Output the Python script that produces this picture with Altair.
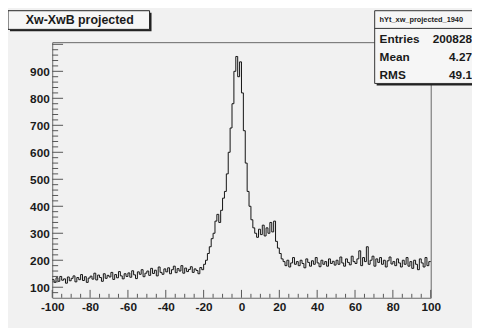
import altair as alt
import pandas as pd

# ---- data (bin width 1, left edges -100 .. 99) ----
bin_lo, bin_hi = -100, 100
counts = [
    128, 118, 135, 122, 140, 126, 131, 115, 138, 124,   # -100..-91
    133, 142, 120, 136, 128, 147, 125, 139, 118, 134,   # -90..-81
    141, 130, 152, 127, 145, 136, 122, 150, 133, 144,   # -80..-71
    138, 155, 129, 147, 135, 158, 142, 131, 150, 140,   # -70..-61
    153, 137, 161, 146, 132, 157, 148, 165, 139, 152,   # -60..-51
    160, 144, 170, 151, 163, 142, 175, 155, 148, 168,   # -50..-41
    157, 172, 150, 165, 178, 154, 169, 160, 180, 152,   # -40..-31
    171, 158, 166, 176, 155, 168, 162, 150, 173, 165,   # -30..-21
    185, 200, 225, 250, 280, 300, 345, 370, 340, 385,   # -20..-11
    430, 455, 520, 600, 690, 780, 900, 955, 880, 935,   # -10..-1
    820, 680, 560, 455, 400, 350, 320, 300, 285, 315,   # 0..9
    295, 330, 290, 320, 300, 340, 305, 345, 270, 245,   # 10..19
    225, 205, 195, 180, 200, 175, 190, 210, 185, 195,   # 20..29
    180, 200, 188, 172, 205, 192, 178, 198, 185, 210,   # 30..39
    190, 176, 200, 185, 195, 178, 205, 188, 196, 182,   # 40..49
    200, 185, 212, 190, 178, 205, 192, 183, 215, 195,   # 50..59
    188, 205, 235, 180, 210, 195, 250, 185, 200, 215,   # 60..69
    178, 205, 192, 210, 185, 200, 175, 198, 212, 186,   # 70..79
    195, 180, 205, 190, 175, 200, 185, 210, 178, 195,   # 80..89
    170, 200, 185, 165, 205, 190, 175, 210, 180, 195,   # 90..99
]
x_labels = [-100, -80, -60, -40, -20, 0, 20, 40, 60, 80, 100]
y_labels = [100, 200, 300, 400, 500, 600, 700, 800, 900]
y_domain = [61, 1008]
title_text = ["Xw-XwB projected"]
stats_name = ["hYt_xw_projected_1940"]
stats_keys = ["Entries", "Mean", "RMS"]
stats_vals = ["200828", "4.27", "49.1"]

W, H = 385, 260
FONT = "Liberation Sans"
INK = "#1a1a1a"
BG = "#f1f1f1"
LBL = "datum.value < 0 ? '-' + abs(datum.value) : '' + datum.value"

edges = list(range(bin_lo, bin_hi + 1))
hist = pd.DataFrame({"x": edges, "y": counts + [counts[-1]]})

xs = alt.Scale(domain=[bin_lo, bin_hi], nice=False, zero=False)
ys = alt.Scale(domain=y_domain, nice=False, zero=False)
x_axis = alt.Axis(values=x_labels, ticks=False, domain=False, grid=False,
                  title=None, labelFont=FONT, labelFontSize=12,
                  labelFontWeight="bold", labelColor=INK, labelPadding=4,
                  labelFlush=False, labelOverlap=False, labelExpr=LBL)
y_axis = alt.Axis(values=y_labels, ticks=False, domain=False, grid=False,
                  title=None, labelFont=FONT, labelFontSize=12,
                  labelFontWeight="bold", labelColor=INK, labelPadding=3,
                  labelOverlap=False, labelExpr=LBL)

line = alt.Chart(hist).mark_line(interpolate="step-after", color="#111", strokeWidth=1).encode(
    x=alt.X("x:Q", scale=xs, axis=x_axis, title=None),
    y=alt.Y("y:Q", scale=ys, axis=y_axis, title=None),
)

# axis ticks drawn inside the frame (ROOT style)
ymaj = pd.DataFrame({"x": [0] * 10, "y": list(range(100, 1001, 100))})
ymin = pd.DataFrame({"x": 0, "y": [v for v in range(80, 1001, 20) if v % 100 != 0]})
xmaj = pd.DataFrame({"x": list(range(-100, 101, 20)), "y": 500})
xmin = pd.DataFrame({"x": [v for v in range(-95, 100, 5) if v % 20 != 0], "y": 500})
TK = "#555"
t1 = alt.Chart(ymaj).mark_rule(color=TK, strokeWidth=1).encode(
    y=alt.Y("y:Q", scale=ys, axis=y_axis, title=None), x=alt.value(0), x2=alt.value(11))
t2 = alt.Chart(ymin).mark_rule(color=TK, strokeWidth=1).encode(
    y=alt.Y("y:Q", scale=ys, axis=y_axis, title=None), x=alt.value(0), x2=alt.value(6))
t3 = alt.Chart(xmaj).mark_rule(color=TK, strokeWidth=1).encode(
    x=alt.X("x:Q", scale=xs, axis=x_axis, title=None), y=alt.value(H), y2=alt.value(H - 8))
t4 = alt.Chart(xmin).mark_rule(color=TK, strokeWidth=1).encode(
    x=alt.X("x:Q", scale=xs, axis=x_axis, title=None), y=alt.value(H), y2=alt.value(H - 4))

# title box
tdf = pd.DataFrame({"t": title_text})
tshadow = alt.Chart(tdf).mark_rect(color="#222").encode(
    x=alt.value(-43), x2=alt.value(101), y=alt.value(-30), y2=alt.value(-11))
tbox = alt.Chart(tdf).mark_rect(fill="#f6f6f6", stroke="#222", strokeWidth=1).encode(
    x=alt.value(-45), x2=alt.value(99), y=alt.value(-32), y2=alt.value(-13))
ttext = alt.Chart(tdf).mark_text(font=FONT, fontSize=12.6, fontWeight="bold", color=INK,
                                 align="center", baseline="middle").encode(
    x=alt.value(28), y=alt.value(-22.5), text="t:N")

# stats box
ndf = pd.DataFrame({"n": stats_name})
sshadow = alt.Chart(ndf).mark_rect(color="#222").encode(
    x=alt.value(330), x2=alt.value(432), y=alt.value(-30), y2=alt.value(44))
sbox = alt.Chart(ndf).mark_rect(fill="#f6f6f6", stroke="#333", strokeWidth=1).encode(
    x=alt.value(328), x2=alt.value(430), y=alt.value(-32), y2=alt.value(42))
sline = alt.Chart(ndf).mark_rule(color="#333").encode(
    x=alt.value(328), x2=alt.value(430), y=alt.value(-14))
sname = alt.Chart(ndf).mark_text(font=FONT, fontSize=7.5, fontWeight="bold",
                                 color=INK, align="left", baseline="middle").encode(
    x=alt.value(333), y=alt.value(-23), text="n:N")

row_y = [-3, 15, 33]
stat_layers = []
for k, v, yy in zip(stats_keys, stats_vals, row_y):
    d = pd.DataFrame({"k": [k], "v": [v]})
    stat_layers.append(alt.Chart(d).mark_text(font=FONT, fontSize=12, fontWeight="bold", color=INK,
                                              align="left", baseline="middle").encode(
        x=alt.value(333), y=alt.value(yy), text="k:N"))
    stat_layers.append(alt.Chart(d).mark_text(font=FONT, fontSize=12, fontWeight="bold", color=INK,
                                              align="right", baseline="middle").encode(
        x=alt.value(427), y=alt.value(yy), text="v:N"))

chart = alt.layer(
    line, t1, t2, t3, t4,
    tshadow, tbox, ttext,
    sshadow, sbox, sline, sname, *stat_layers,
).properties(
    width=W, height=H,
    autosize=alt.AutoSizeParams(type="none"),
    padding={"left": 45, "top": 32, "right": 42, "bottom": 28},
    background=BG,
).configure_view(stroke="#666", strokeWidth=1, fill=BG)

chart.save("out.html", embed_options={"renderer": "svg", "actions": False})
